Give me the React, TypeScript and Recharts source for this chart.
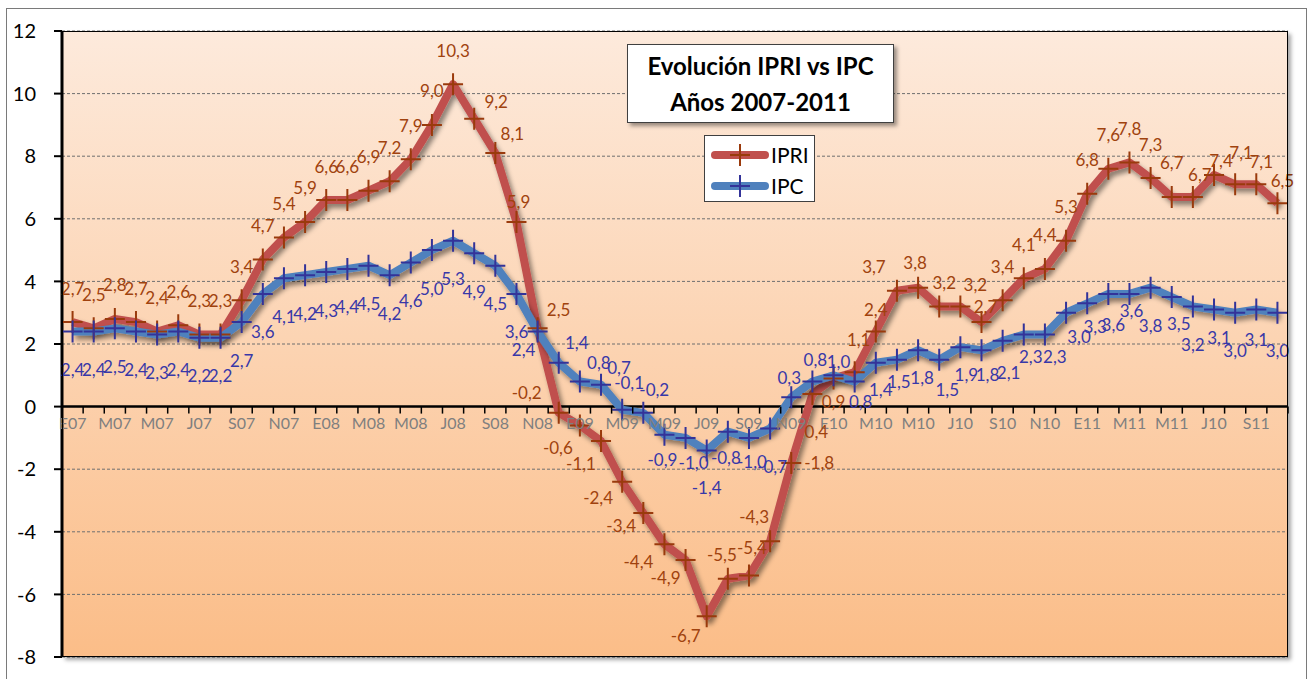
import React from 'react';
import { LineChart, Line, XAxis, YAxis, CartesianGrid, ReferenceLine, LabelList, Legend } from 'recharts';

// Meses (E=enero ... D=diciembre), enero 2007 a octubre 2011
const months = [
  'E07', 'F07', 'M07', 'A07', 'M07', 'J07', 'J07', 'A07', 'S07', 'O07', 'N07', 'D07',
  'E08', 'F08', 'M08', 'A08', 'M08', 'J08', 'J08', 'A08', 'S08', 'O08', 'N08', 'D08',
  'E09', 'F09', 'M09', 'A09', 'M09', 'J09', 'J09', 'A09', 'S09', 'O09', 'N09', 'D09',
  'E10', 'F10', 'M10', 'A10', 'M10', 'J10', 'J10', 'A10', 'S10', 'O10', 'N10', 'D10',
  'E11', 'F11', 'M11', 'A11', 'M11', 'J11', 'J11', 'A11', 'S11', 'O11',
];

// labels shown on the axis, one every two months (as printed in the original)
const tickLabels = [
  'E07', 'M07', 'M07', 'J07', 'S07', 'N07',
  'E08', 'M08', 'M08', 'J08', 'S08', 'N08',
  'E09', 'M09', 'M09', 'J09', 'S09', 'N09',
  'E10', 'M10', 'M10', 'J10', 'S10', 'N10',
  'E11', 'M11', 'M11', 'J10', 'S11',
];

const ipri = [
  2.7, 2.5, 2.8, 2.7, 2.4, 2.6, 2.3, 2.3, 3.4, 4.7, 5.4, 5.9,
  6.6, 6.6, 6.9, 7.2, 7.9, 9.0, 10.3, 9.2, 8.1, 5.9, 2.5, -0.2,
  -0.6, -1.1, -2.4, -3.4, -4.4, -4.9, -6.7, -5.5, -5.4, -4.3, -1.8, 0.4,
  0.9, 1.1, 2.4, 3.7, 3.8, 3.2, 3.2, 2.7, 3.4, 4.1, 4.4, 5.3,
  6.8, 7.6, 7.8, 7.3, 6.7, 6.7, 7.4, 7.1, 7.1, 6.5,
];

const ipc = [
  2.4, 2.4, 2.5, 2.4, 2.3, 2.4, 2.2, 2.2, 2.7, 3.6, 4.1, 4.2,
  4.3, 4.4, 4.5, 4.2, 4.6, 5.0, 5.3, 4.9, 4.5, 3.6, 2.4, 1.4,
  0.8, 0.7, -0.1, -0.2, -0.9, -1.0, -1.4, -0.8, -1.0, -0.7, 0.3, 0.8,
  1.0, 0.8, 1.4, 1.5, 1.8, 1.5, 1.9, 1.8, 2.1, 2.3, 2.3, 3.0,
  3.3, 3.6, 3.6, 3.8, 3.5, 3.2, 3.1, 3.0, 3.1, 3.0,
];

const yTicks = [-8, -6, -4, -2, 0, 2, 4, 6, 8, 10, 12];

const data = months.map((m, i) => ({ m, ipri: ipri[i], ipc: ipc[i] }));

// layout
const W = 1307;
const H = 679;
const PLOT_L = 62;
const PLOT_R = 1288;
const PLOT_T = 31;
const PLOT_B = 657;
const STEP = (PLOT_R - PLOT_L) / months.length;
const ZERO_Y = PLOT_T + ((12 - 0) / 20) * (PLOT_B - PLOT_T);

const RED = '#c0504d';
const RED_DARK = '#9a3a0c';
const BLUE = '#4f81bd';
const BLUE_DARK = '#333399';
const RED_TEXT = '#a0420e';
const BLUE_TEXT = '#3838a8';

// label nudges (dx, dy of label centre from the point), default above / below
const ipriNudge: Record<number, [number, number]> = {
  19: [22, -17], 20: [17, -20], 21: [2, -20], 22: [21, -19], 23: [-32, -20],
  24: [-22, 22], 25: [-20, 22], 26: [-24, 16], 27: [-22, 12], 28: [-26, 17], 29: [-20, 18], 30: [-21, 19],
  31: [-6, -24], 32: [3, -28], 33: [-16, -25], 34: [28, 0], 35: [4, 37], 36: [0, 23],
  37: [4, -33], 38: [0, -22], 39: [-23, -24], 40: [-3, -25], 41: [5, -24], 42: [15, -22], 43: [4, -16],
  53: [7, -22], 54: [7, -14], 55: [6, -32], 56: [5, -23], 57: [5, -23],
};
const ipcNudge: Record<number, [number, number]> = {
  22: [-14, 18], 23: [18, -20], 24: [19, -19], 25: [18, -17], 26: [7, -27], 27: [11, -23],
  28: [-2, 25], 29: [8, 25], 30: [0, 37], 31: [-2, 26], 32: [3, 24], 33: [2, 38],
  34: [-2, -20], 35: [3, -22], 36: [5, -14],
  37: [6, 20], 38: [5, 27], 39: [2, 22], 40: [4, 27], 41: [8, 30], 42: [6, 27], 43: [6, 24],
  44: [6, 32], 45: [7, 22], 46: [10, 22], 47: [13, 24], 48: [8, 23], 49: [5, 31], 50: [2, 17],
  52: [7, 26], 54: [5, 28], 56: [0, 30],
};

const fmt = (v: number) => v.toFixed(1).replace('.', ',');

function makeLabel(nudge: Record<number, [number, number]>, def: [number, number], color: string) {
  return (props: any) => {
    const { x, y, value } = props;
    const idx = props.index ?? Math.round((x - PLOT_L - STEP / 2) / STEP);
    const [dx, dy] = nudge[idx] || def;
    return (
      <text x={x + dx} y={y + dy} textAnchor="middle" dominantBaseline="central" fill={color} fontSize={17}>
        {fmt(Number(value))}
      </text>
    );
  };
}

function makeCross(color: string) {
  return (props: any) => {
    const { cx, cy, index } = props;
    if (cx == null || cy == null) return <g key={index} />;
    return (
      <path
        key={index}
        d={`M${cx - 10},${cy}H${cx + 10}M${cx},${cy - 11}V${cy + 11}`}
        stroke={color}
        strokeWidth={2}
        fill="none"
      />
    );
  };
}

function MonthTick(props: any) {
  const { x, index } = props;
  const bx = x - STEP / 2;
  return (
    <g>
      <line x1={bx} x2={bx} y1={ZERO_Y} y2={ZERO_Y + 7} stroke="#000" strokeWidth={1.5} />
      {index === months.length - 1 && (
        <line x1={x + STEP / 2} x2={x + STEP / 2} y1={ZERO_Y} y2={ZERO_Y + 7} stroke="#000" strokeWidth={1.5} />
      )}
      {index % 2 === 0 && (
        <text x={x} y={ZERO_Y + 22} textAnchor="middle" fill="#7f7f7f" fontSize={16}>
          {tickLabels[index / 2]}
        </text>
      )}
    </g>
  );
}

function LegendBox() {
  const rows = [
    { name: 'IPRI', line: RED, mark: RED_DARK },
    { name: 'IPC', line: BLUE, mark: BLUE_DARK },
  ];
  return (
    <div
      style={{
        width: 111, height: 67, boxSizing: 'border-box', background: '#fff',
        border: '1px solid #404040', paddingTop: 3, fontFamily: 'Lato', color: '#000',
      }}
    >
      {rows.map((r) => (
        <div key={r.name} style={{ display: 'flex', alignItems: 'center', height: 31 }}>
          <svg width={66} height={26} style={{ display: 'block' }}>
            <line x1={10} x2={60} y1={13} y2={13} stroke={r.line} strokeWidth={8} strokeLinecap="round" />
            <path d="M25,13H45M35,2V24" stroke={r.mark} strokeWidth={2} />
          </svg>
          <span style={{ fontSize: 21, lineHeight: '26px' }}>{r.name}</span>
        </div>
      ))}
    </div>
  );
}

export default function App() {
  return (
    <div style={{ position: 'absolute', left: 0, top: 0, width: W, height: H, overflow: 'hidden', background: '#fff', fontFamily: 'Lato' }}>
      <div style={{ position: 'absolute', left: 6, top: 8, width: 1301, height: 700, boxSizing: 'border-box', border: '1.5px solid #7a7a7a' }} />
      <LineChart
        width={W}
        height={H}
        data={data}
        margin={{ top: PLOT_T, right: W - PLOT_R, bottom: H - PLOT_B - 1, left: 0 }}
        style={{ fontFamily: 'Lato' }}
      >
        <defs>
          <linearGradient id="plotBg" x1="0" y1="0" x2="0" y2="1">
            <stop offset="0%" stopColor="#fdeadc" />
            <stop offset="100%" stopColor="#fbbd88" />
          </linearGradient>
          <filter id="lineShadow" x="-5%" y="-5%" width="110%" height="115%">
            <feDropShadow dx="3" dy="4" stdDeviation="2.5" floodColor="#000" floodOpacity="0.45" />
          </filter>
        </defs>
        <CartesianGrid vertical={false} stroke="#6f6f6f" strokeDasharray="3 2" fill="url(#plotBg)" fillOpacity={1} />
        <XAxis
          dataKey="m"
          interval={0}
          height={1}
          axisLine={false}
          tickLine={false}
          tick={<MonthTick />}
          padding={{ left: STEP / 2, right: STEP / 2 }}
        />
        <YAxis
          domain={[-8, 12]}
          ticks={yTicks}
          interval={0}
          width={PLOT_L}
          axisLine={{ stroke: '#000', strokeWidth: 3 }}
          tickLine={{ stroke: '#000', strokeWidth: 2 }}
          tickSize={8}
          tickMargin={18}
          tick={{ fill: '#000', fontSize: 20 }}
        />
        <ReferenceLine y={0} stroke="#000" strokeWidth={2.5} />
        <Legend
          layout="horizontal"
          verticalAlign="middle"
          align="center"
          wrapperStyle={{ left: 704, top: 135, width: 111, height: 67 }}
          content={<LegendBox />}
        />
        <Line
          dataKey="ipri"
          name="IPRI"
          stroke={RED}
          strokeWidth={8}
          strokeLinejoin="round"
          filter="url(#lineShadow)"
          dot={makeCross(RED_DARK)}
          activeDot={false}
          isAnimationActive={false}
        >
          <LabelList dataKey="ipri" content={makeLabel(ipriNudge, [0, -34], RED_TEXT)} />
        </Line>
        <Line
          dataKey="ipc"
          name="IPC"
          stroke={BLUE}
          strokeWidth={8}
          strokeLinejoin="round"
          filter="url(#lineShadow)"
          dot={makeCross(BLUE_DARK)}
          activeDot={false}
          isAnimationActive={false}
        >
          <LabelList dataKey="ipc" content={makeLabel(ipcNudge, [0, 38], BLUE_TEXT)} />
        </Line>
      </LineChart>
      <div
        style={{
          position: 'absolute', left: PLOT_L, top: PLOT_T, width: PLOT_R - PLOT_L, height: PLOT_B - PLOT_T,
          boxSizing: 'border-box', border: '1.5px solid #000', boxShadow: '3px 3px 4px rgba(0,0,0,0.35)',
          pointerEvents: 'none',
        }}
      />
      <div
        style={{
          position: 'absolute', left: 627, top: 44, width: 267, height: 79, boxSizing: 'border-box',
          background: '#fff', border: '1.5px solid #404040', boxShadow: '3px 3px 4px rgba(0,0,0,0.4)',
          display: 'flex', flexDirection: 'column', justifyContent: 'center', alignItems: 'center',
          fontWeight: 700, fontSize: 24, lineHeight: '36px', color: '#000',
        }}
      >
        <div>Evolución IPRI vs IPC</div>
        <div>Años 2007-2011</div>
      </div>
    </div>
  );
}
